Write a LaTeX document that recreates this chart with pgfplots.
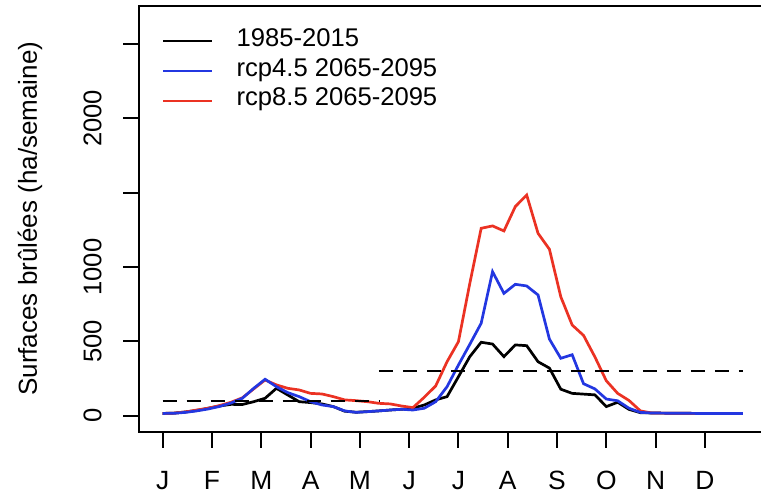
\documentclass[border=0pt]{standalone}
\usepackage{pgfplots}
\usepackage{pgfplotstable}
\usepackage{fontspec}
\setmainfont{Liberation Sans}
\pgfplotsset{compat=1.18}
\definecolor{rblue}{RGB}{35,55,225}
\definecolor{rred}{RGB}{235,50,35}

\pgfplotstableread{
w black blue red
1 15 15 15
2 17 16 17
3 25 22 25
4 35 32 38
5 50 45 50
6 65 62 68
7 76 85 90
8 75 117 120
9 94 184 180
10 117 245 240
11 184 195 207
12 139 155 184
13 94 128 173
14 88 94 150
15 79 72 146
16 61 61 128
17 30 32 106
18 23 22 101
19 27 27 94
20 32 32 83
21 38 38 79
22 43 43 65
23 50 38 54
24 72 50 124
25 106 94 200
26 128 195 363
27 262 341 498
28 397 480 890
29 494 622 1261
30 482 969 1277
31 397 823 1243
32 476 884 1407
33 471 873 1485
34 363 812 1227
35 320 515 1120
36 178 386 800
37 150 410 610
38 145 215 540
39 140 180 395
40 61 112 235
41 90 100 150
42 42 50 102
43 20 22 32
44 18 18 18
45 17 17 17
46 16 16 16
47 16 16 16
48 15 15 15
49 15 15 15
50 15 15 15
51 15 15 15
52 15 15 15
}\fires

\pgfplotstableread{
w v
1 100
20 100
}\threslow
\pgfplotstableread{
w v
20 300
52 300
}\threshigh

\begin{document}
\begin{tikzpicture}
\begin{axis}[
  scale only axis,
  width=313.25pt, height=213pt,
  xmin=-1.04, xmax=54.04,
  ymin=-108, ymax=2759,
  axis line style={line width=1pt},
  tick style={line width=1pt, black},
  tick align=outside,
  major tick length=8pt,
  xtick pos=bottom, ytick pos=left,
  xtick={1,5.3333,9.6667,14,18.3333,22.6667,27,31.3333,35.6667,40,44.3333,48.6667},
  xticklabels={J,F,M,A,M,J,J,A,S,O,N,D},
  ytick={0,500,1000,1500,2000,2500},
  yticklabels={0,500,1000,,2000,},
  /pgf/number format/assume math mode=true,
  xticklabel style={font=\fontsize{13.2}{15}\selectfont, anchor=base, yshift=-21pt},
  yticklabel style={font=\fontsize{12.8}{15}\selectfont, anchor=center, xshift=-15.5pt, rotate=90},
  every axis y label/.style={at={(rel axis cs:0,0.5)}, xshift=-54.75pt, rotate=90, anchor=center, font=\fontsize{13}{15}\selectfont},
  ylabel={Surfaces brûlées (ha/semaine)},
  legend style={draw=none, fill=none, at={(rel axis cs:0,1)}, anchor=north west,
    xshift=11pt, yshift=-10pt, inner sep=0pt, row sep=0pt,
    font=\fontsize{12.8}{15}\selectfont,
    nodes={inner sep=0pt, text height=10pt, text depth=4.95pt},
    /tikz/every odd column/.append style={column sep=11.5pt}},
  legend cell align=left,
  legend image code/.code={\draw[#1] (0pt,0pt) -- (24.5pt,0pt);},
]
\coordinate (o) at (rel axis cs:0,0);
\addplot[black, line width=1.35pt, forget plot] table[x=w, y=black] {\fires};
\addplot[rred, line width=1.35pt, forget plot] table[x=w, y=red] {\fires};
\addplot[rblue, line width=1.35pt, forget plot] table[x=w, y=blue] {\fires};
\addplot[black, line width=1.2pt, dash pattern=on 7pt off 5pt, forget plot] table[x=w, y=v] {\threslow};
\addplot[black, line width=1.2pt, dash pattern=on 7pt off 5pt, forget plot] table[x=w, y=v] {\threshigh};
\addlegendimage{black, line width=1.35pt}
\addlegendentry{1985-2015}
\addlegendimage{rblue, line width=1.35pt}
\addlegendentry{rcp4.5 2065-2095}
\addlegendimage{rred, line width=1.35pt}
\addlegendentry{rcp8.5 2065-2095}
\end{axis}
\pgfresetboundingbox
\path[use as bounding box] ([xshift=-69.75pt, yshift=-31.15pt]o) rectangle ++(380.5pt, 247pt);
\end{tikzpicture}
\end{document}
